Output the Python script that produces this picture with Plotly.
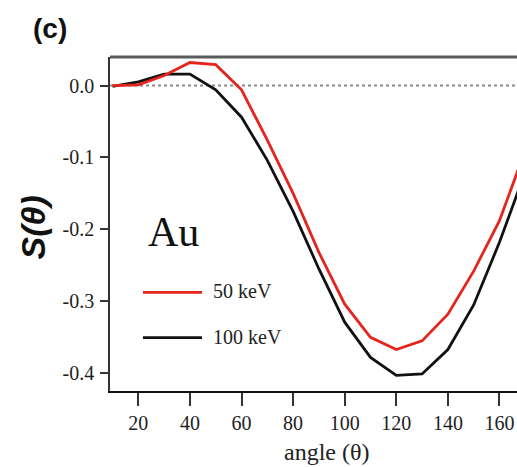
import plotly.graph_objects as go

# Scattering asymmetry S(theta) for Au at two beam energies
angles = [10, 20, 30, 40, 50, 60, 70, 80, 90, 100, 110, 120, 130, 140, 150, 160, 170]
s_50kev = [0.0, 0.001, 0.014, 0.032, 0.029, -0.006, -0.076, -0.150, -0.232, -0.304,
           -0.350, -0.367, -0.355, -0.318, -0.258, -0.188, -0.090]
s_100kev = [-0.001, 0.005, 0.016, 0.016, -0.006, -0.044, -0.104, -0.175, -0.255, -0.329,
            -0.378, -0.403, -0.401, -0.367, -0.305, -0.218, -0.120]
x_ticks = [20, 40, 60, 80, 100, 120, 140, 160]
y_ticks = [0.0, -0.1, -0.2, -0.3, -0.4]
y_tick_labels = ["0.0", "-0.1", "-0.2", "-0.3", "-0.4"]

RED = "#e5241c"
BLACK = "#111111"
AXIS = "#333333"
SERIF = "Liberation Serif, Times New Roman, serif"
SANS = "Liberation Sans, Arial, sans-serif"

fig = go.Figure()
fig.add_trace(go.Scatter(x=angles, y=s_100kev, mode="lines",
                         line=dict(color=BLACK, width=2.8), name="100 keV"))
fig.add_trace(go.Scatter(x=angles, y=s_50kev, mode="lines",
                         line=dict(color=RED, width=2.8), name="50 keV"))

# dotted zero reference line
fig.add_hline(y=0, line=dict(color="#8a8a8a", width=2, dash="dot"), layer="below")

# top frame line
fig.add_shape(type="line", xref="paper", yref="paper", x0=0, x1=1, y0=1, y1=1,
              line=dict(color="#5a5a5a", width=3))

# legend block drawn inside the plot area
fig.add_shape(type="line", xref="paper", yref="paper", x0=0.081, x1=0.226, y0=0.295, y1=0.295,
              line=dict(color=RED, width=2.8))
fig.add_shape(type="line", xref="paper", yref="paper", x0=0.081, x1=0.226, y0=0.160, y1=0.160,
              line=dict(color=BLACK, width=2.8))

annotations = [
    dict(text="Au", x=0.088, y=0.475, xanchor="left", yanchor="middle",
         font=dict(family=SERIF, size=42, color="#111111")),
    dict(text="50 keV", x=0.249, y=0.298, xanchor="left", yanchor="middle",
         font=dict(family=SERIF, size=20, color="#222222")),
    dict(text="100 keV", x=0.249, y=0.163, xanchor="left", yanchor="middle",
         font=dict(family=SERIF, size=20, color="#222222")),
    dict(text="<b>(c)</b>", x=-0.147, y=1.084, xanchor="center", yanchor="middle",
         font=dict(family=SANS, size=28, color="#111111")),
    dict(text="<b><i>S(θ)</i></b>", x=-0.189, y=0.49, xanchor="center", yanchor="middle",
         textangle=-90, font=dict(family=SANS, size=34, color="#111111")),
    dict(text="angle (θ)", x=0.531, y=-0.184, xanchor="center", yanchor="middle",
         font=dict(family=SERIF, size=24, color="#222222")),
]
for a in annotations:
    a.update(xref="paper", yref="paper", showarrow=False)
fig.update_layout(annotations=annotations)

fig.update_layout(
    width=517, height=467,
    margin=dict(l=110, r=0, t=57, b=76),
    paper_bgcolor="white", plot_bgcolor="white",
    showlegend=False,
    xaxis=dict(range=[9, 166.8], tickvals=x_ticks, ticks="outside", ticklen=13,
               tickwidth=1.6, tickcolor=AXIS, showline=True, linecolor=BLACK,
               linewidth=2.2, showgrid=False, zeroline=False,
               tickfont=dict(family=SERIF, size=20, color="#222222")),
    yaxis=dict(range=[-0.4247, 0.0397], tickvals=y_ticks, ticktext=y_tick_labels,
               ticks="outside", ticklen=8, tickwidth=1.6, tickcolor=AXIS,
               showline=True, linecolor=AXIS, linewidth=1.6, showgrid=False,
               zeroline=False, ticklabelstandoff=2,
               tickfont=dict(family=SERIF, size=20, color="#222222")),
)

fig.write_html("out.html")
